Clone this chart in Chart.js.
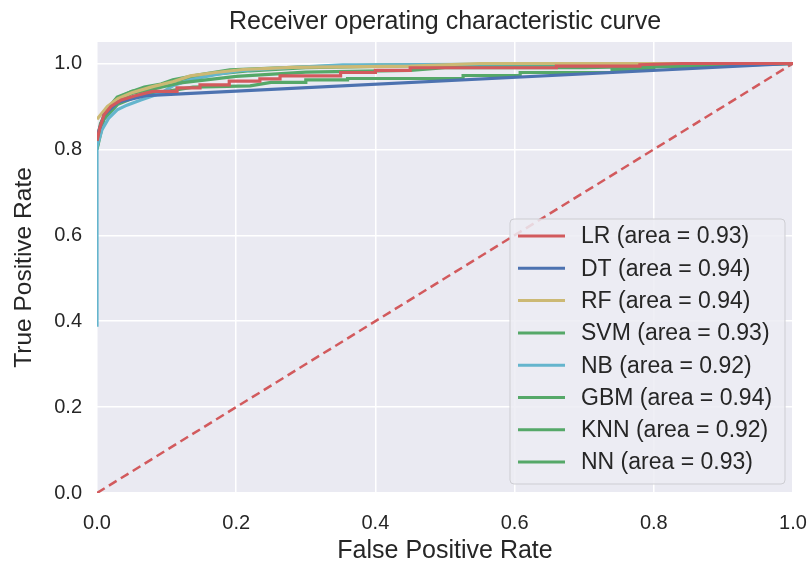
<!DOCTYPE html>
<html>
<head>
<meta charset="utf-8">
<script src="https://cdn.jsdelivr.net/npm/chart.js@4.4.0/dist/chart.umd.min.js"></script>
<style>
  html, body { margin:0; padding:0; background:#fff; }
  #wrap { width:809px; height:563px; position:relative; }
</style>
</head>
<body>
<div id="wrap"><canvas id="c"></canvas></div>
<script>
// ---- data ----
const chartTitle = 'Receiver operating characteristic curve';
const xTitle = 'False Positive Rate';
const yTitle = 'True Positive Rate';
const tickValues = [0, 0.2, 0.4, 0.6, 0.8, 1.0];

const modelNames = ['LR', 'DT', 'RF', 'SVM', 'NB', 'GBM', 'KNN', 'NN'];
const modelAreas = [0.93, 0.94, 0.94, 0.93, 0.92, 0.94, 0.92, 0.93];
const modelColors = ['#D25A5D', '#4C72B0', '#CCB974', '#55A868', '#64B5CD', '#55A868', '#55A868', '#55A868'];

const lrFpr  = [0, 0.004, 0.01, 0.02, 0.035, 0.055, 0.08, 0.115, 0.115, 0.148, 0.148, 0.19, 0.19, 0.234, 0.234, 0.263, 0.263, 0.35, 0.35, 0.40, 0.40, 0.45, 0.45, 0.66, 0.66, 0.78, 0.78, 0.84, 1];
const lrTpr  = [0.82, 0.85, 0.88, 0.90, 0.915, 0.925, 0.935, 0.935, 0.943, 0.943, 0.95, 0.95, 0.959, 0.959, 0.964, 0.964, 0.971, 0.971, 0.979, 0.979, 0.984, 0.984, 0.99, 0.99, 0.994, 0.994, 0.997, 1, 1];

const dtFpr  = [0, 0.01, 0.03, 0.07, 1];
const dtTpr  = [0.83, 0.88, 0.91, 0.925, 1];

const rfFpr  = [0, 0.005, 0.015, 0.03, 0.05, 0.08, 0.11, 0.134, 0.17, 0.21, 0.28, 0.45, 0.55, 1];
const rfTpr  = [0.87, 0.88, 0.90, 0.918, 0.932, 0.946, 0.958, 0.971, 0.979, 0.986, 0.991, 0.994, 1, 1];

const svmFpr = [0, 0.005, 0.015, 0.03, 0.05, 0.08, 0.12, 0.2, 0.3, 0.45, 0.5, 0.7, 0.85, 1];
const svmTpr = [0.82, 0.86, 0.89, 0.915, 0.93, 0.94, 0.955, 0.97, 0.98, 0.984, 0.99, 0.99, 0.995, 1];

const nbFpr  = [0, 0, 0.007, 0.017, 0.029, 0.043, 0.063, 0.092, 0.109, 0.134, 0.17, 0.205, 0.25, 0.353, 0.40, 0.74, 1];
const nbTpr  = [0.387, 0.806, 0.845, 0.873, 0.892, 0.903, 0.915, 0.931, 0.948, 0.962, 0.974, 0.983, 0.988, 0.997, 0.997, 1, 1];

const gbmFpr = [0, 0.005, 0.014, 0.029, 0.049, 0.068, 0.092, 0.109, 0.144, 0.191, 0.263, 0.3, 0.4, 1];
const gbmTpr = [0.80, 0.853, 0.892, 0.922, 0.934, 0.945, 0.952, 0.962, 0.973, 0.985, 0.99, 0.992, 0.996, 1];

const knnFpr = [0, 0.01, 0.03, 0.06, 0.1, 0.138, 0.22, 0.25, 0.30, 0.30, 0.36, 0.36, 0.526, 0.526, 0.608, 0.608, 0.74, 0.74, 0.80, 0.80, 0.9, 1];
const knnTpr = [0.80, 0.87, 0.905, 0.925, 0.935, 0.945, 0.948, 0.956, 0.956, 0.962, 0.962, 0.965, 0.965, 0.972, 0.972, 0.979, 0.979, 0.986, 0.986, 0.992, 0.995, 1];

const nnFpr  = [0, 0.006, 0.016, 0.03, 0.05, 0.075, 0.1, 0.13, 0.17, 0.22, 0.3, 0.5, 1];
const nnTpr  = [0.81, 0.86, 0.895, 0.92, 0.935, 0.943, 0.955, 0.965, 0.975, 0.983, 0.99, 0.996, 1];

const chanceFpr = [0, 1];
const chanceTpr = [0, 1];

const fprSets = [lrFpr, dtFpr, rfFpr, svmFpr, nbFpr, gbmFpr, knnFpr, nnFpr];
const tprSets = [lrTpr, dtTpr, rfTpr, svmTpr, nbTpr, gbmTpr, knnTpr, nnTpr];

// ---- build chart ----
const FONT = "'Liberation Sans', Arial, sans-serif";
const TEXT = '#262626';

const toPoints = (xs, ys) => xs.map((x, i) => ({ x: x, y: ys[i] }));

const datasets = modelNames.map((n, i) => ({
  label: n + ' (area = ' + modelAreas[i].toFixed(2) + ')',
  data: toPoints(fprSets[i], tprSets[i]),
  borderColor: modelColors[i],
  backgroundColor: modelColors[i],
  borderWidth: 3.2,
  showLine: true,
  pointRadius: 0,
  tension: 0,
  fill: false
}));
datasets.push({
  label: 'chance',
  data: toPoints(chanceFpr, chanceTpr),
  borderColor: '#D25A5D',
  borderWidth: 2.5,
  borderDash: [9, 5],
  showLine: true,
  pointRadius: 0,
  fill: false
});

const decor = {
  id: 'decor',
  beforeDraw(chart) {
    const { ctx, chartArea: a } = chart;
    ctx.save();
    ctx.fillStyle = '#ffffff';
    ctx.fillRect(0, 0, chart.width, chart.height);
    ctx.fillStyle = '#EAEAF2';
    ctx.fillRect(a.left, a.top, a.right - a.left, a.bottom - a.top);
    ctx.restore();
  },
  afterDraw(chart) {
    const { ctx, chartArea: a } = chart;
    ctx.save();
    ctx.fillStyle = TEXT;
    // title
    ctx.font = '25px ' + FONT;
    ctx.textAlign = 'center';
    ctx.textBaseline = 'middle';
    ctx.fillText(chartTitle, (a.left + a.right) / 2, 22);
    // x title
    ctx.font = '25px ' + FONT;
    ctx.fillText(xTitle, (a.left + a.right) / 2, 551);
    // y title
    ctx.save();
    ctx.translate(24, (a.top + a.bottom) / 2);
    ctx.rotate(-Math.PI / 2);
    ctx.font = '24.5px ' + FONT;
    ctx.fillText(yTitle, 0, 0);
    ctx.restore();

    // legend
    const bx = 510, by = 219, bw = 275, bh = 265, r = 4;
    ctx.beginPath();
    ctx.moveTo(bx + r, by);
    ctx.arcTo(bx + bw, by, bx + bw, by + bh, r);
    ctx.arcTo(bx + bw, by + bh, bx, by + bh, r);
    ctx.arcTo(bx, by + bh, bx, by, r);
    ctx.arcTo(bx, by, bx + bw, by, r);
    ctx.closePath();
    ctx.fillStyle = 'rgba(236,236,243,0.85)';
    ctx.fill();
    ctx.strokeStyle = '#CDCDD2';
    ctx.lineWidth = 1;
    ctx.stroke();

    ctx.font = '23px ' + FONT;
    ctx.textAlign = 'left';
    ctx.textBaseline = 'middle';
    for (let i = 0; i < modelNames.length; i++) {
      const ds = chart.data.datasets[i];
      const y = 236 + i * 32.3;
      ctx.strokeStyle = ds.borderColor;
      ctx.lineWidth = 3;
      ctx.beginPath();
      ctx.moveTo(518, y);
      ctx.lineTo(565, y);
      ctx.stroke();
      ctx.fillStyle = TEXT;
      ctx.fillText(ds.label, 581, y + 1);
    }
    ctx.restore();
  }
};

new Chart(document.getElementById('c'), {
  type: 'scatter',
  data: { datasets: datasets },
  plugins: [decor],
  options: {
    responsive: true,
    maintainAspectRatio: false,
    animation: false,
    devicePixelRatio: 1,
    layout: { padding: { left: 0, right: 16, top: 42, bottom: 0 } },
    plugins: {
      legend: { display: false },
      tooltip: { enabled: false },
      title: { display: false }
    },
    scales: {
      x: {
        type: 'linear',
        min: 0, max: 1,
        afterFit(s) { s.height = 70; s.paddingLeft = 0; s.paddingRight = 0; },
        afterBuildTicks(s) { s.ticks = tickValues.map(v => ({ value: v })); },
        grid: { color: '#ffffff', lineWidth: 1.5, drawTicks: false },
        border: { display: false },
        ticks: {
          padding: 18,
          color: TEXT,
          font: { family: FONT, size: 20 },
          callback: v => Number(v).toFixed(1)
        }
      },
      y: {
        type: 'linear',
        min: 0, max: 1.05,
        afterFit(s) { s.width = 97; s.paddingTop = 0; s.paddingBottom = 0; },
        afterBuildTicks(s) { s.ticks = tickValues.map(v => ({ value: v })); },
        grid: { color: '#ffffff', lineWidth: 1.5, drawTicks: false },
        border: { display: false },
        ticks: {
          padding: 15,
          color: TEXT,
          font: { family: FONT, size: 20 },
          callback: v => Number(v).toFixed(1)
        }
      }
    }
  }
});
</script>
</body>
</html>
